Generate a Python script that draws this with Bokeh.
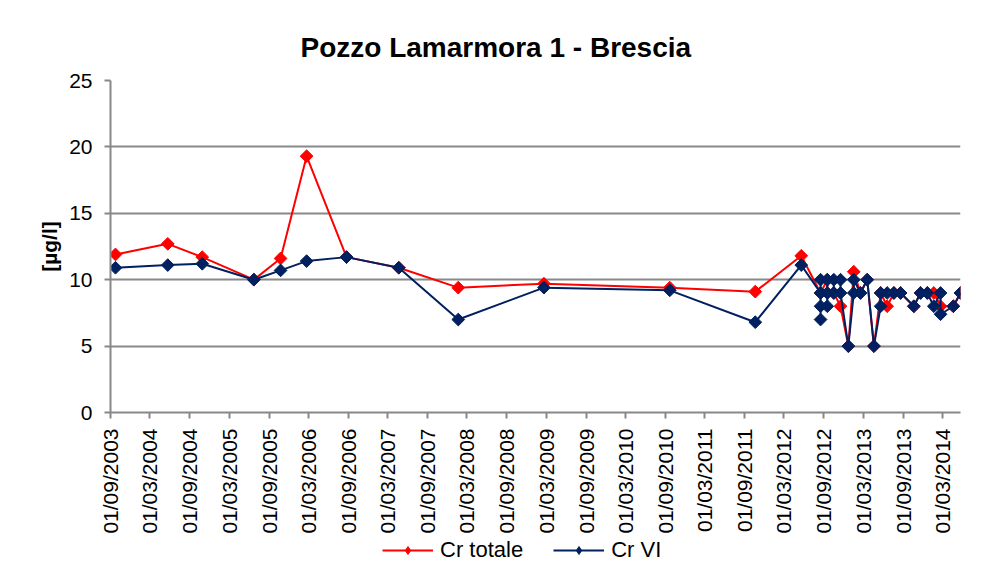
import numpy as np
import pandas as pd
from bokeh.plotting import figure
from bokeh.layouts import column
from bokeh.models import Range1d, FixedTicker, Legend, LegendItem, DatetimeTickFormatter
from bokeh.embed import file_html
from bokeh.resources import INLINE

# ---------------- data ----------------
chart_title = "Pozzo Lamarmora 1 - Brescia"
y_label = "[µg/l]"
series_names = ["Cr totale", "Cr VI"]

tick_labels = ["01/09/2003", "01/03/2004", "01/09/2004", "01/03/2005", "01/09/2005",
               "01/03/2006", "01/09/2006", "01/03/2007", "01/09/2007", "01/03/2008",
               "01/09/2008", "01/03/2009", "01/09/2009", "01/03/2010", "01/09/2010",
               "01/03/2011", "01/09/2011", "01/03/2012", "01/09/2012", "01/03/2013",
               "01/09/2013", "01/03/2014"]
x_end_date = "2014-05-24"
y_ticks = [0, 5, 10, 15, 20, 25]

dates_totale = ["2003-09-24", "2004-05-22", "2004-10-28", "2005-06-23", "2005-10-24",
                "2006-02-21", "2006-08-24", "2007-04-22", "2008-01-21", "2009-02-19",
                "2010-09-22", "2011-10-21", "2012-05-20",
                "2012-08-17", "2012-09-17", "2012-09-17", "2012-10-17", "2012-11-17",
                "2012-12-23", "2013-01-17", "2013-02-17", "2013-03-20", "2013-04-20",
                "2013-05-21", "2013-06-20", "2013-07-21", "2013-08-21", "2013-10-21",
                "2013-11-21", "2013-12-22", "2014-01-21", "2014-02-21", "2014-04-21",
                "2014-05-24"]
cr_totale = [11.9, 12.7, 11.7, 10.0, 11.6,
             19.3, 11.7, 10.9, 9.4, 9.7,
             9.4, 9.1, 11.8,
             9, 10, 9, 9, 8,
             5, 10.6, 9, 10, 5,
             9, 8, 9, 9, 8,
             9, 9, 9, 8, 8,
             9]

dates_vi = ["2003-09-24", "2004-05-22", "2004-10-28", "2005-06-23", "2005-10-24",
            "2006-02-21", "2006-08-24", "2007-04-22", "2008-01-21", "2009-02-19",
            "2010-09-22", "2011-10-21", "2012-05-20",
            "2012-08-17", "2012-08-17", "2012-08-17", "2012-08-17",
            "2012-09-17", "2012-09-17", "2012-09-17",
            "2012-10-17", "2012-10-17", "2012-11-17", "2012-11-17",
            "2012-12-23", "2013-01-17", "2013-01-17", "2013-02-17", "2013-03-20",
            "2013-04-20", "2013-05-21", "2013-05-21", "2013-06-20", "2013-07-21",
            "2013-08-21", "2013-10-21", "2013-11-21", "2013-12-22", "2014-01-21",
            "2014-02-21", "2014-02-21", "2014-04-21", "2014-05-24"]
cr_vi = [10.9, 11.1, 11.2, 10.0, 10.7,
         11.4, 11.7, 10.9, 7.0, 9.4,
         9.2, 6.8, 11.1,
         9, 7, 8, 10,
         10, 8, 9,
         9, 10, 10, 9,
         5, 9, 10, 9, 10,
         5, 8, 9, 9, 9,
         9, 8, 9, 9, 8,
         9, 7.4, 8, 9]

# ---------------- figure ----------------
RED = "#FF0000"
NAVY = "#002060"
GRID = "#888888"
FONT = "Liberation Sans"

x_start = pd.to_datetime(tick_labels[0], format="%d/%m/%Y")
x_end = pd.to_datetime(x_end_date)
tick_ms = [t.timestamp() * 1000 for t in pd.to_datetime(tick_labels, format="%d/%m/%Y")]

p = figure(width=965, height=536, output_backend="svg", toolbar_location=None,
           x_axis_type="datetime",
           x_range=Range1d(x_start, x_end), y_range=Range1d(0, 25),
           min_border_left=110, min_border_right=5, min_border_top=80, min_border_bottom=124)

p.title.text = chart_title
p.title.align = "left"
p.title.offset = 190
p.title.text_font = FONT
p.title.text_font_size = "28px"
p.title.text_font_style = "bold"
p.title.text_color = "#000000"
p.title.standoff = 35

p.outline_line_color = None
p.background_fill_color = "white"
p.border_fill_color = "white"

p.xgrid.grid_line_color = None
p.ygrid.grid_line_color = GRID
p.ygrid.grid_line_width = 2
p.ygrid.ticker = FixedTicker(ticks=y_ticks)

p.yaxis.ticker = FixedTicker(ticks=y_ticks)
p.yaxis.axis_label = y_label
p.yaxis.axis_label_text_font = FONT
p.yaxis.axis_label_text_font_size = "21px"
p.yaxis.axis_label_text_font_style = "bold"
p.yaxis.axis_label_text_color = "#000000"
p.yaxis.axis_label_standoff = 5
p.yaxis.major_label_text_font = FONT
p.yaxis.major_label_text_font_size = "21px"
p.yaxis.major_label_text_color = "#000000"
p.yaxis.major_label_standoff = 12
p.yaxis.axis_line_color = GRID
p.yaxis.axis_line_width = 2
p.yaxis.major_tick_line_color = GRID
p.yaxis.major_tick_line_width = 2
p.yaxis.major_tick_out = 6
p.yaxis.major_tick_in = 0
p.yaxis.minor_tick_line_color = None

p.xaxis.ticker = FixedTicker(ticks=tick_ms)
fmt = "%d/%m/%Y"
p.xaxis.formatter = DatetimeTickFormatter(microseconds=fmt, milliseconds=fmt, seconds=fmt,
                                          minsec=fmt, minutes=fmt, hourmin=fmt, hours=fmt,
                                          days=fmt, months=fmt, years=fmt)
p.xaxis.major_label_orientation = np.pi / 2
p.xaxis.major_label_text_font = FONT
p.xaxis.major_label_text_font_size = "21px"
p.xaxis.major_label_text_color = "#000000"
p.xaxis.major_label_standoff = 10
p.xaxis.axis_line_color = GRID
p.xaxis.axis_line_width = 2
p.xaxis.major_tick_line_color = GRID
p.xaxis.major_tick_line_width = 2
p.xaxis.major_tick_out = 6
p.xaxis.major_tick_in = 0
p.xaxis.minor_tick_line_color = None

xt = pd.to_datetime(dates_totale)
xv = pd.to_datetime(dates_vi)

p.line(xt, cr_totale, line_color=RED, line_width=2)
p.scatter(xt, cr_totale, marker="square", angle=np.pi / 4, size=9,
          fill_color=RED, line_color=RED)
p.line(xv, cr_vi, line_color=NAVY, line_width=2)
p.scatter(xv, cr_vi, marker="square", angle=np.pi / 4, size=9,
          fill_color=NAVY, line_color=NAVY)

# ---------------- legend strip (same series, ranges keep them out of view) ----------------
pl = figure(width=965, height=28, output_backend="svg", toolbar_location=None,
            x_axis_type="datetime",
            x_range=Range1d(x_start, x_end), y_range=Range1d(100, 101), min_border=0)
pl.axis.visible = False
pl.grid.grid_line_color = None
pl.outline_line_color = None
pl.background_fill_color = "white"
pl.border_fill_color = "white"

l1 = pl.line(xt, cr_totale, line_color=RED, line_width=2)
m1 = pl.scatter(xt, cr_totale, marker="diamond", size=12,
                fill_color=RED, line_color=RED)
l2 = pl.line(xv, cr_vi, line_color=NAVY, line_width=2)
m2 = pl.scatter(xv, cr_vi, marker="diamond", size=12,
                fill_color=NAVY, line_color=NAVY)

legend = Legend(items=[LegendItem(label=series_names[0], renderers=[l1, m1]),
                       LegendItem(label=series_names[1], renderers=[l2, m2])],
                orientation="horizontal", location=(272, 1))
legend.border_line_color = None
legend.background_fill_alpha = 0
legend.padding = 0
legend.margin = 0
legend.glyph_width = 51
legend.glyph_height = 20
legend.label_standoff = 7
legend.spacing = 30
legend.label_text_font = FONT
legend.label_text_font_size = "22px"
legend.label_text_color = "#000000"
pl.add_layout(legend, "center")

layout = column(p, pl, spacing=0)
open("out.html", "w").write(file_html(layout, INLINE))
